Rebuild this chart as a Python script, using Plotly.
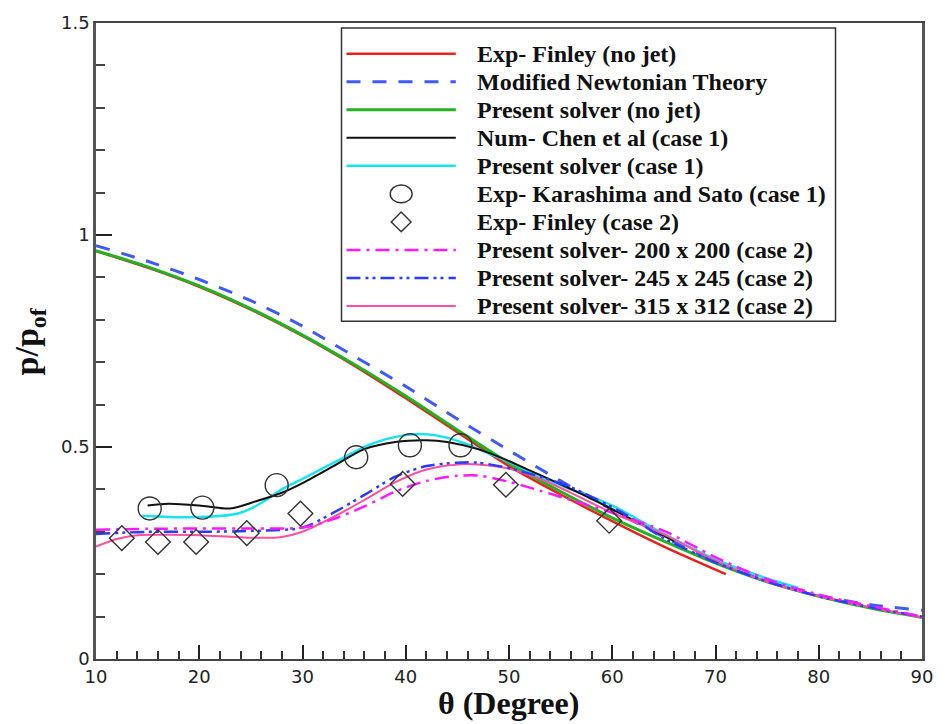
import plotly.graph_objects as go

# ---- data: surface pressure ratio p/p_of versus angle theta (degrees) ----
theta_red = [10, 15, 20, 25, 30, 35, 40, 45, 50, 55, 60, 65, 71]
p_red = [0.962, 0.923, 0.878, 0.824, 0.762, 0.692, 0.615, 0.535, 0.455, 0.388, 0.325, 0.265, 0.200]

theta_newton = [10, 15, 20, 25, 30, 35, 40, 45, 50, 55, 60, 65, 70, 75, 80, 85, 90]
p_newton = [0.975, 0.938, 0.895, 0.845, 0.785, 0.714, 0.643, 0.566, 0.492, 0.420, 0.352, 0.288,
            0.230, 0.183, 0.150, 0.128, 0.115]

theta_green = [10, 15, 20, 25, 30, 35, 40, 45, 50, 55, 60, 65, 70, 75, 80, 85, 90]
p_green = [0.963, 0.925, 0.880, 0.826, 0.764, 0.695, 0.620, 0.540, 0.462, 0.395, 0.333, 0.278,
           0.226, 0.182, 0.148, 0.120, 0.098]

theta_chen = [15, 17, 20, 23, 25.5, 28, 30, 33, 36, 39, 42, 44, 47, 49.5, 52, 55, 58, 62, 66]
p_chen = [0.362, 0.366, 0.362, 0.355, 0.372, 0.392, 0.415, 0.455, 0.495, 0.512, 0.516, 0.512,
          0.495, 0.472, 0.445, 0.412, 0.378, 0.328, 0.278]

theta_case1 = [14.5, 17, 20, 22, 24, 26, 28, 30, 32, 34, 36, 38, 40, 42, 44, 46, 48, 50, 53, 56,
               60, 65, 70, 75, 78]
p_case1 = [0.338, 0.335, 0.335, 0.337, 0.345, 0.368, 0.400, 0.425, 0.450, 0.475, 0.500, 0.518,
           0.528, 0.530, 0.522, 0.506, 0.485, 0.465, 0.430, 0.400, 0.362, 0.295, 0.235, 0.190, 0.168]

theta_karashima = [15.2, 20.3, 27.5, 35.2, 40.4, 45.3]
p_karashima = [0.355, 0.357, 0.410, 0.476, 0.504, 0.504]

theta_finley2 = [12.5, 16.0, 19.7, 24.6, 29.8, 39.7, 49.7, 59.7]
p_finley2 = [0.285, 0.276, 0.276, 0.297, 0.343, 0.413, 0.411, 0.326]

theta_g200 = [10, 15, 20, 25, 30, 33, 36, 39, 42, 45, 47, 50, 53, 56, 60, 65, 70, 75, 80, 85, 90]
p_g200 = [0.305, 0.307, 0.308, 0.308, 0.310, 0.330, 0.360, 0.395, 0.420, 0.432, 0.433, 0.418,
          0.397, 0.375, 0.345, 0.302, 0.240, 0.188, 0.152, 0.125, 0.100]

theta_g245 = [10, 15, 20, 25, 30, 33, 36, 39, 42, 45, 47, 50, 53, 56, 61, 65, 70, 75, 80, 85, 90]
p_g245 = [0.295, 0.300, 0.300, 0.302, 0.310, 0.345, 0.387, 0.430, 0.455, 0.463, 0.463, 0.450,
          0.430, 0.405, 0.345, 0.285, 0.228, 0.183, 0.148, 0.122, 0.100]

theta_g315 = [10, 12, 14, 17, 20, 25, 28, 30, 33, 36, 39, 42, 45, 47, 50, 53, 56, 60, 65, 70,
              75, 80, 85, 90]
p_g315 = [0.265, 0.283, 0.292, 0.293, 0.292, 0.286, 0.288, 0.300, 0.335, 0.375, 0.417, 0.447,
          0.459, 0.459, 0.449, 0.425, 0.392, 0.345, 0.294, 0.232, 0.182, 0.148, 0.122, 0.098]

x_tickvals = [10, 20, 30, 40, 50, 60, 70, 80, 90]
x_ticktext = ["10", "20", "30", "40", "50", "60", "70", "80", "90"]
y_tickvals = [0, 0.5, 1, 1.5]
y_ticktext = ["0", "0.5", "1", "1.5"]

# ---- page geometry (pixels) ----
W, H = 945, 724
ML, MR, MT, MB = 96, 18, 17, 65
PW, PH = W - ML - MR, H - MT - MB


def px_x(px):
    return (px - ML) / PW


def px_y(py):
    return (H - MB - py) / PH


SERIF = "Liberation Serif, Times New Roman, serif"
SANS = "DejaVu Sans, Arial, sans-serif"

# name, x, y, line style, marker style
series = [
    ("Exp- Finley (no jet)", theta_red, p_red,
     dict(color="#e8231d", width=2.5), None),
    ("Modified Newtonian Theory", theta_newton, p_newton,
     dict(color="#3f5bff", width=3, dash="14px,12px"), None),
    ("Present solver (no jet)", theta_green, p_green,
     dict(color="#22b222", width=3), None),
    ("Num- Chen et al (case 1)", theta_chen, p_chen,
     dict(color="#111111", width=2), None),
    ("Present solver (case 1)", theta_case1, p_case1,
     dict(color="#18e4ee", width=2.5), None),
    ("Exp- Karashima and Sato (case 1)", theta_karashima, p_karashima, None,
     dict(symbol="circle-open", size=23, color="#333333", line=dict(width=1.4, color="#333333"))),
    ("Exp- Finley (case 2)", theta_finley2, p_finley2, None,
     dict(symbol="diamond-open", size=19, color="#333333", line=dict(width=1.4, color="#333333"))),
    ("Present solver- 200 x 200 (case 2)", theta_g200, p_g200,
     dict(color="#ff1aff", width=2.5, dash="14px,6px,3px,6px"), None),
    ("Present solver- 245 x 245 (case 2)", theta_g245, p_g245,
     dict(color="#2b3bff", width=2.5, dash="14px,5px,3px,4px,3px,5px"), None),
    ("Present solver- 315 x 312 (case 2)", theta_g315, p_g315,
     dict(color="#ff4f9f", width=2), None),
]

draw_order = [0, 2, 1, 4, 3, 9, 8, 7, 5, 6]

fig = go.Figure()
for i in draw_order:
    name, xs, ys, line, marker = series[i]
    if marker is None:
        fig.add_trace(go.Scatter(x=xs, y=ys, mode="lines", name=name,
                                 line=dict(shape="spline", smoothing=0.8, **line),
                                 showlegend=False))
    else:
        fig.add_trace(go.Scatter(x=xs, y=ys, mode="markers", name=name,
                                 marker=marker, showlegend=False))

# ---- boxed legend with long sample lines ----
shapes = [dict(type="rect", xref="paper", yref="paper",
               x0=px_x(343), x1=px_x(840), y0=px_y(318), y1=px_y(22),
               line=dict(color="#333333", width=1.5), fillcolor="white", layer="above")]
annotations = []
row0, row_step = 48, 28.3
for i, (name, xs, ys, line, marker) in enumerate(series):
    cy = row0 + row_step * i
    if marker is None:
        shapes.append(dict(type="line", xref="paper", yref="paper",
                           x0=px_x(348), x1=px_x(458), y0=px_y(cy), y1=px_y(cy),
                           line=dict(color=line["color"], width=line["width"],
                                     dash=line.get("dash", "solid")),
                           layer="above"))
    elif marker["symbol"].startswith("circle"):
        shapes.append(dict(type="circle", xref="paper", yref="paper",
                           x0=px_x(392), x1=px_x(414), y0=px_y(cy + 9), y1=px_y(cy - 9),
                           line=dict(color="#333333", width=1.4), layer="above"))
    else:
        cx = 403
        path = (f"M {px_x(cx - 10)} {px_y(cy)} L {px_x(cx)} {px_y(cy - 10)} "
                f"L {px_x(cx + 10)} {px_y(cy)} L {px_x(cx)} {px_y(cy + 10)} Z")
        shapes.append(dict(type="path", xref="paper", yref="paper", path=path,
                           line=dict(color="#333333", width=1.4), layer="above"))
    annotations.append(dict(xref="paper", yref="paper", x=px_x(477), y=px_y(cy),
                            xanchor="left", yanchor="middle", showarrow=False,
                            text=f"<b>{name}</b>",
                            font=dict(family=SERIF, size=24, color="#111111")))

# axis titles
annotations.append(dict(xref="paper", yref="paper", x=px_x(511), y=px_y(703),
                        xanchor="center", yanchor="middle", showarrow=False,
                        text="<b>θ (Degree)</b>",
                        font=dict(family=SERIF, size=32, color="#111111")))
annotations.append(dict(xref="paper", yref="paper", x=px_x(29), y=0.5,
                        xanchor="center", yanchor="middle", showarrow=False,
                        textangle=-90, text="<b>p/p<sub>of</sub></b>",
                        font=dict(family=SERIF, size=34, color="#111111")))

fig.update_layout(
    width=W, height=H,
    margin=dict(l=ML, r=MR, t=MT, b=MB, pad=0),
    paper_bgcolor="white", plot_bgcolor="white",
    showlegend=False,
    shapes=shapes, annotations=annotations,
)
fig.update_xaxes(
    range=[10, 90], tickvals=x_tickvals, ticktext=x_ticktext,
    ticks="inside", ticklen=14, tickwidth=2, tickcolor="#222222",
    minor=dict(dtick=2, ticks="inside", ticklen=8, tickwidth=1.5, tickcolor="#333333"),
    showline=True, linewidth=2, linecolor="#444444", mirror=True,
    showgrid=False, zeroline=False,
    tickfont=dict(family=SANS, size=18, color="#222222"),
)
fig.update_yaxes(
    range=[0, 1.5], tickvals=y_tickvals, ticktext=y_ticktext,
    ticks="inside", ticklen=16, tickwidth=2, tickcolor="#222222",
    minor=dict(dtick=0.1, ticks="inside", ticklen=9, tickwidth=1.5, tickcolor="#444444"),
    showline=True, linewidth=2.5, linecolor="#555555", mirror=True,
    showgrid=False, zeroline=False,
    tickfont=dict(family=SANS, size=18, color="#222222"),
)

fig.write_html("out.html")
